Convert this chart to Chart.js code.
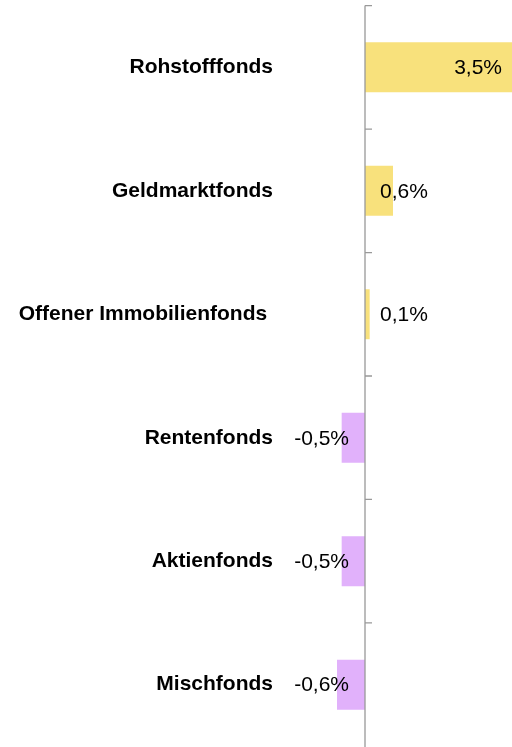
<!DOCTYPE html>
<html>
<head>
<meta charset="utf-8">
<script src="https://cdn.jsdelivr.net/npm/chart.js@4"></script>
<style>
  html, body { margin: 0; padding: 0; background: #fff; overflow: hidden; }
  #chart { display: block; margin-top: -15px; }
</style>
</head>
<body>
<canvas id="chart" width="512" height="782"></canvas>
<script>
// Fondsarten and their change in percent
const categories = ['Rohstofffonds', 'Geldmarktfonds', 'Offener Immobilienfonds ', 'Rentenfonds', 'Aktienfonds', 'Mischfonds'];
const values = [3.5, 0.6, 0.1, -0.5, -0.5, -0.6];
const barColors = values.map(v => v >= 0 ? '#f8e17c' : '#e1b1fb');

function fmt(v) {
  return v.toFixed(1).replace('.', ',') + '%';
}

// zero line, boundary ticks and value labels
const decor = {
  id: 'decor',
  afterDatasetsDraw(chart) {
    const ctx = chart.ctx;
    const x = chart.scales.x, y = chart.scales.y;
    const area = chart.chartArea;
    const x0 = x.getPixelForValue(0);
    const step = y.getPixelForValue(1) - y.getPixelForValue(0);

    ctx.save();
    ctx.strokeStyle = '#999';
    ctx.lineWidth = 1.3;
    ctx.beginPath();
    ctx.moveTo(x0, area.top);
    ctx.lineTo(x0, area.bottom + 10);
    for (let i = 0; i < categories.length; i++) {
      const yb = y.getPixelForValue(i) - step / 2;
      ctx.moveTo(x0, yb);
      ctx.lineTo(x0 + 7, yb);
    }
    ctx.stroke();

    ctx.fillStyle = '#000';
    ctx.font = '21px "Liberation Sans", Arial, sans-serif';
    ctx.textBaseline = 'middle';
    values.forEach((v, i) => {
      const yc = y.getPixelForValue(i) + 1;
      if (v > x.max) {
        ctx.textAlign = 'right';
        ctx.fillText(fmt(v), area.right - 10, yc);
      } else if (v >= 0) {
        ctx.textAlign = 'left';
        ctx.fillText(fmt(v), x0 + 15, yc);
      } else {
        ctx.textAlign = 'right';
        ctx.fillText(fmt(v), x0 - 16, yc);
      }
    });
    ctx.restore();
  }
};

new Chart(document.getElementById('chart'), {
  type: 'bar',
  data: {
    labels: categories,
    datasets: [{
      data: values,
      backgroundColor: barColors,
      borderWidth: 0,
      barPercentage: 0.405,
      categoryPercentage: 1
    }]
  },
  options: {
    indexAxis: 'y',
    responsive: false,
    animation: false,
    layout: { padding: { top: 6, right: 0, bottom: 0, left: 0 } },
    plugins: {
      legend: { display: false },
      tooltip: { enabled: false }
    },
    scales: {
      x: {
        min: -1.8,
        max: 3.15,
        display: false
      },
      y: {
        border: { display: false },
        grid: { display: false, drawTicks: false },
        ticks: {
          padding: 8,
          color: '#000',
          font: { family: '"Liberation Sans", Arial, sans-serif', size: 21, weight: 'bold' }
        },
        afterFit(scale) { scale.width = 281; }
      }
    }
  },
  plugins: [decor]
});
</script>
</body>
</html>
